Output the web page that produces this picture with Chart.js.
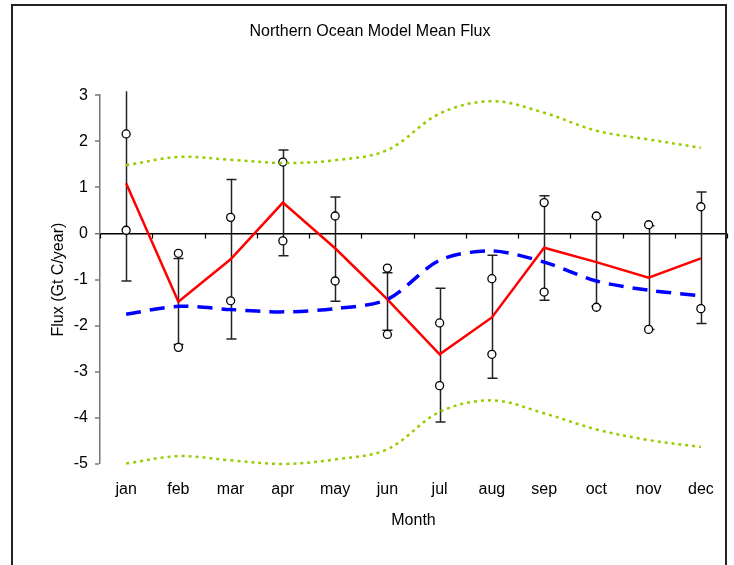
<!DOCTYPE html>
<html>
<head>
<meta charset="utf-8">
<script src="https://cdn.jsdelivr.net/npm/chart.js@4.4.1/dist/chart.umd.min.js"></script>
<style>
  body { margin: 0; background: #fff; }
  #wrap { width: 734px; height: 565px; }
</style>
</head>
<body>
<div id="wrap"><canvas id="fluxChart" width="734" height="565"></canvas></div>
<script>
const meses = ["jan", "feb", "mar", "apr", "may", "jun", "jul", "aug", "sep", "oct", "nov", "dec"];
const mediaModelo = [1.09, -1.48, -0.56, 0.67, -0.32, -1.43, -2.62, -1.82, -0.31, -0.62, -0.96, -0.54];
const serieAzul = [-1.75, -1.58, -1.65, -1.70, -1.63, -1.43, -0.58, -0.38, -0.62, -1.03, -1.23, -1.35];
const limiteSuperior = [1.48, 1.66, 1.60, 1.53, 1.59, 1.81, 2.60, 2.87, 2.62, 2.23, 2.04, 1.86];
const limiteInferior = [-4.99, -4.83, -4.92, -5.00, -4.90, -4.68, -3.87, -3.62, -3.90, -4.25, -4.48, -4.63];
const circuloAlto = [2.16, -0.43, 0.35, 1.55, 0.38, -0.75, -1.94, -0.98, 0.67, 0.38, 0.19, 0.58];
const circuloBaixo = [0.07, -2.47, -1.46, -0.16, -1.03, -2.19, -3.30, -2.62, -1.27, -1.60, -2.08, -1.63];
const erroAlto = [3.3, -0.54, 1.17, 1.81, 0.79, -0.85, -1.19, -0.47, 0.82, 0.36, 0.17, 0.90];
const erroBaixo = [-1.03, -2.41, -2.29, -0.48, -1.47, -2.10, -4.09, -3.14, -1.45, -1.58, -2.08, -1.95];
const ticksY = [3, 2, 1, 0, -1, -2, -3, -4, -5];

const fonte = { family: "'Liberation Sans', Arial, sans-serif", size: 16 };

// moldura e barras de erro
const extras = {
  id: "extras",
  beforeDatasetsDraw(chart) {
    const { ctx, chartArea, scales: { x, y } } = chart;
    ctx.save();
    ctx.beginPath();
    ctx.rect(chartArea.left, chartArea.top - 4, chartArea.right - chartArea.left, chartArea.bottom - chartArea.top + 8);
    ctx.clip();
    ctx.strokeStyle = "#222";
    ctx.lineWidth = 1.5;
    meses.forEach((m, i) => {
      const px = Math.round(x.getPixelForValue(i)) + 0.5;
      const yA = y.getPixelForValue(erroAlto[i]);
      const yB = y.getPixelForValue(erroBaixo[i]);
      ctx.beginPath();
      ctx.moveTo(px, yA); ctx.lineTo(px, yB);
      ctx.moveTo(px - 5, yA); ctx.lineTo(px + 5, yA);
      ctx.moveTo(px - 5, yB); ctx.lineTo(px + 5, yB);
      ctx.stroke();
    });
    ctx.restore();

    // marcas entre categorias na linha do zero
    const y0 = y.getPixelForValue(0);
    ctx.save();
    ctx.strokeStyle = "#000";
    ctx.lineWidth = 1.2;
    for (let i = 0; i <= meses.length; i++) {
      const px = Math.round(x.getPixelForValue(i - 0.5)) + 0.5;
      ctx.beginPath();
      ctx.moveTo(px, y0); ctx.lineTo(px, y0 + 5);
      ctx.stroke();
    }
    ctx.restore();
  },
  afterDraw(chart) {
    const ctx = chart.ctx;
    ctx.save();
    ctx.strokeStyle = "#222";
    ctx.lineWidth = 2;
    ctx.strokeRect(12, 5, 714, 620);
    ctx.restore();
  }
};

const ctx = document.getElementById("fluxChart").getContext("2d");
new Chart(ctx, {
  type: "line",
  data: {
    labels: meses,
    datasets: [
      {
        label: "upper",
        data: limiteSuperior,
        borderColor: "#99cc00",
        borderWidth: 2.5,
        borderDash: [3, 4],
        tension: 0.35,
        pointRadius: 0,
        fill: false,
        clip: false
      },
      {
        label: "lower",
        data: limiteInferior,
        borderColor: "#99cc00",
        borderWidth: 2.5,
        borderDash: [3, 4],
        tension: 0.35,
        pointRadius: 0,
        fill: false,
        clip: false
      },
      {
        label: "blue",
        data: serieAzul,
        borderColor: "#0000ff",
        borderWidth: 3.5,
        borderDash: [15, 9],
        tension: 0.3,
        pointRadius: 0,
        fill: false,
        clip: false
      },
      {
        label: "model mean",
        data: mediaModelo,
        borderColor: "#ff0000",
        borderWidth: 2.5,
        tension: 0,
        pointRadius: 0,
        fill: false,
        clip: false
      },
      {
        label: "high",
        data: circuloAlto,
        showLine: false,
        pointStyle: "circle",
        pointRadius: 4,
        pointBorderWidth: 1.3,
        pointBorderColor: "#000",
        pointBackgroundColor: "#fff",
        clip: false
      },
      {
        label: "low",
        data: circuloBaixo,
        showLine: false,
        pointStyle: "circle",
        pointRadius: 4,
        pointBorderWidth: 1.3,
        pointBorderColor: "#000",
        pointBackgroundColor: "#fff",
        clip: false
      }
    ]
  },
  options: {
    responsive: false,
    animation: false,
    layout: { padding: { left: 13, right: 7, top: 0, bottom: 0 } },
    plugins: {
      legend: { display: false },
      tooltip: { enabled: false },
      title: {
        display: true,
        text: "Northern Ocean Model Mean Flux",
        color: "#000",
        font: { ...fonte, weight: "normal" },
        padding: { top: 22, bottom: 54 }
      }
    },
    scales: {
      x: {
        offset: true,
        grid: { display: false },
        border: { display: false },
        ticks: { color: "#000", font: fonte, padding: 8, maxRotation: 0 },
        title: { display: true, text: "Month", color: "#000", font: fonte, padding: { top: 4, bottom: 35 } },
        afterFit(scale) { scale.height = 101; }
      },
      y: {
        min: -5,
        max: 3,
        afterBuildTicks(scale) { scale.ticks = ticksY.map(v => ({ value: v })); },
        grid: {
          color: c => (c.tick && c.tick.value === 0 ? "#000" : "transparent"),
          lineWidth: c => (c.tick && c.tick.value === 0 ? 1.5 : 0),
          tickColor: "#555",
          tickLength: 5,
          tickWidth: 1.2
        },
        border: { display: true, color: "#777", width: 1.5 },
        ticks: { color: "#000", font: fonte, padding: 7 },
        title: { display: true, text: "Flux (Gt C/year)", color: "#000", font: fonte, padding: { top: 36, bottom: 4 } },
        afterFit(scale) { scale.width = 87; }
      }
    }
  },
  plugins: [extras]
});
</script>
</body>
</html>
